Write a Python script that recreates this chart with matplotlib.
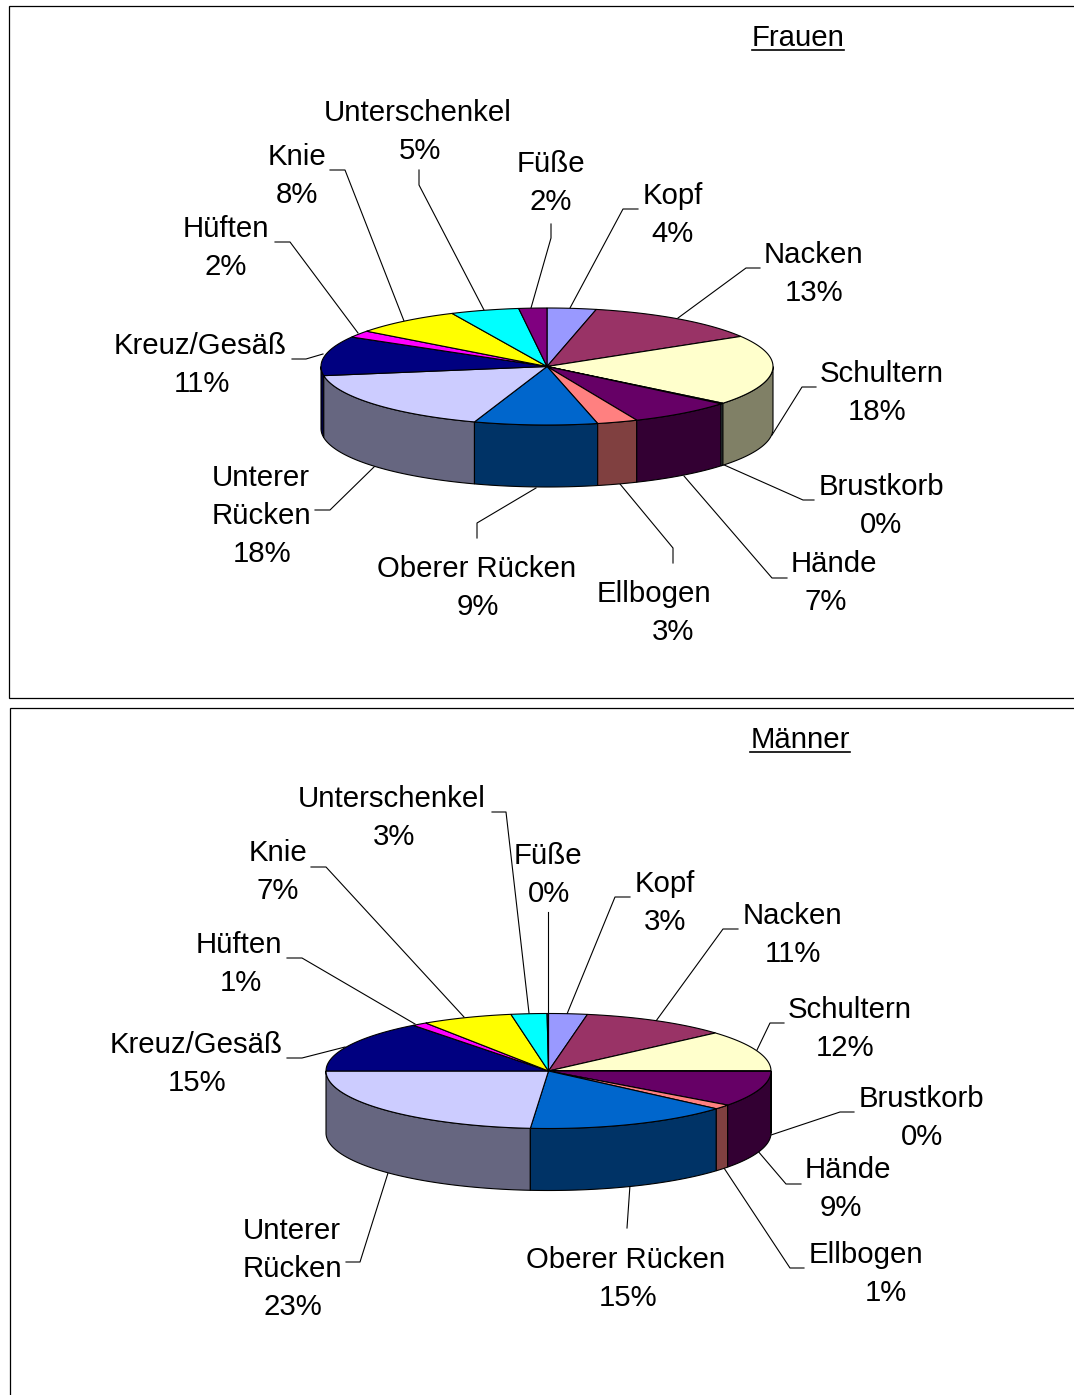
import numpy as np
import matplotlib
matplotlib.use("Agg")
import matplotlib.pyplot as plt
from matplotlib.patches import Polygon, Rectangle

plt.rcParams['font.family'] = ['Liberation Sans', 'DejaVu Sans']

categories = ["Kopf", "Nacken", "Schultern", "Brustkorb", "Hände", "Ellbogen", "Oberer Rücken",
              "Unterer\nRücken", "Kreuz/Gesäß", "Hüften", "Knie", "Unterschenkel", "Füße"]
frauen_values = [3.5, 12.9, 19.4, 0.2, 7.5, 2.9, 8.8, 17.3, 10.9, 1.9, 7.8, 4.9, 2.0]
maenner_values = [2.8, 10.7, 11.5, 0.1, 10.0, 1.3, 14.9, 23.7, 14.6, 1.1, 6.6, 2.6, 0.1]
frauen_labels = ["4%", "13%", "18%", "0%", "7%", "3%", "9%", "18%", "11%", "2%", "8%", "5%", "2%"]
maenner_labels = ["3%", "11%", "12%", "0%", "9%", "1%", "15%", "23%", "15%", "1%", "7%", "3%", "0%"]
top_colors = ["#9999FF", "#993366", "#FFFFCC", "#CCFFFF", "#660066", "#FF8080", "#0066CC",
              "#CCCCFF", "#000080", "#FF00FF", "#FFFF00", "#00FFFF", "#800080"]
side_colors = ["#4D4D80", "#4D1A33", "#808066", "#668080", "#330033", "#804040", "#003366",
               "#666680", "#000040", "#800080", "#808000", "#008080", "#400040"]

# (name x, percent x, block centre y), leader polyline points
frauen_layout = [
    ((673, 673, 213), [(638, 209), (623, 209), (570, 308)]),
    ((813, 814, 272), [(760, 268), (746, 268), (678, 318)]),
    ((882, 877, 391), [(816, 387), (802, 387), (772, 435)]),
    ((881, 881, 504), [(814, 500), (803, 500), (722, 464)]),
    ((834, 826, 581), [(787, 578), (772, 578), (684, 476)]),
    ((654, 673, 611), [(673, 563), (673, 548), (620, 484)]),
    ((477, 478, 586), [(477, 538), (477, 523), (536, 488)]),
    ((261, 262, 514), [(315, 510), (330, 510), (375, 466)]),
    ((200, 202, 363), [(292, 359), (306, 359), (323, 354)]),
    ((226, 226, 246), [(275, 242), (290, 242), (358, 333)]),
    ((297, 297, 174), [(330, 170), (345, 170), (404, 321)]),
    ((418, 420, 130), [(419, 170), (419, 185), (484, 310)]),
    ((551, 551, 181), [(551, 224), (551, 238), (531, 308)]),
]
maenner_layout = [
    ((665, 665, 901), [(630, 897), (615, 897), (567, 1014)]),
    ((792, 793, 933), [(738, 929), (723, 929), (656, 1021)]),
    ((850, 845, 1027), [(784, 1023), (770, 1023), (757, 1050)]),
    ((921, 922, 1116), [(854, 1112), (840, 1112), (771, 1135)]),
    ((848, 841, 1187), [(801, 1184), (786, 1184), (757, 1150)]),
    ((866, 886, 1272), [(804, 1268), (790, 1268), (724, 1168)]),
    ((626, 628, 1277), [(627, 1228), (630, 1185)]),
    ((292, 293, 1267), [(346, 1262), (360, 1262), (388, 1173)]),
    ((196, 197, 1062), [(287, 1058), (302, 1058), (345, 1047)]),
    ((239, 241, 962), [(287, 958), (302, 958), (415, 1024)]),
    ((278, 278, 870), [(311, 867), (326, 867), (464, 1017)]),
    ((392, 394, 816), [(492, 812), (506, 812), (529, 1013)]),
    ((548, 549, 873), [(548, 912), (548, 1013)]),
]

FS = 21.2
LINE_STEP = 38
BASE_OFFSET = 10


def draw_pie(ax, values, labels, layout, cx, cy, rx, ry, depth):
    total = sum(values)
    edges = np.cumsum([0] + list(values)) / total * 2 * np.pi

    def pt(theta, dy=0.0):
        return cx + rx * np.sin(theta), cy - ry * np.cos(theta) + dy

    for i in range(len(values) - 1, -1, -1):
        a, b = max(edges[i], np.pi / 2), min(edges[i + 1], 3 * np.pi / 2)
        if b <= a:
            continue
        t = np.linspace(a, b, 60)
        xs, ys = pt(t)
        xb, yb = pt(t[::-1], depth)
        ax.add_patch(Polygon(np.column_stack([np.r_[xs, xb], np.r_[ys, yb]]), closed=True,
                             facecolor=side_colors[i], edgecolor="black", lw=0.8, zorder=2))
    for i in range(len(values)):
        t = np.linspace(edges[i], edges[i + 1], 80)
        xs, ys = pt(t)
        ax.add_patch(Polygon(np.column_stack([np.r_[cx, xs], np.r_[cy, ys]]), closed=True,
                             facecolor=top_colors[i], edgecolor="black", lw=0.8, zorder=3))
    for cat, lab, ((nx, px, ty), line) in zip(categories, labels, layout):
        ax.plot([p[0] for p in line], [p[1] for p in line], color="black", lw=0.8, zorder=1)
        rows = cat.split("\n") + [lab]
        n = len(rows)
        for k, row in enumerate(rows):
            x = px if k == n - 1 else nx
            y = ty + (k - (n - 1) / 2) * LINE_STEP + BASE_OFFSET
            ax.text(x, y, row, ha="center", va="baseline", fontsize=FS, color="black", zorder=5)


fig = plt.figure(figsize=(10.74, 13.95), dpi=100)
ax = fig.add_axes([0, 0, 1, 1])
ax.set_xlim(0, 1074)
ax.set_ylim(1395, 0)
ax.axis("off")

ax.add_patch(Rectangle((8.5, 6), 1200, 692, facecolor="white", edgecolor="black", lw=0.9, zorder=0))
ax.add_patch(Rectangle((10, 708), 1200, 800, facecolor="white", edgecolor="black", lw=0.9, zorder=0))

draw_pie(ax, frauen_values, frauen_labels, frauen_layout, 547, 366.5, 226, 58.5, 62)
draw_pie(ax, maenner_values, maenner_labels, maenner_layout, 548.5, 1071, 222.5, 57.5, 62)

for (x, y, s) in [(798, 36, "Frauen"), (800, 738, "Männer")]:
    t = ax.text(x, y + 10, s, ha="center", va="baseline", fontsize=FS)
    r = t.get_window_extent(fig.canvas.get_renderer())
    ax.plot([r.x0, r.x1], [y + 13.5, y + 13.5], color="black", lw=1.2)

fig.savefig("out.png", dpi=100)
